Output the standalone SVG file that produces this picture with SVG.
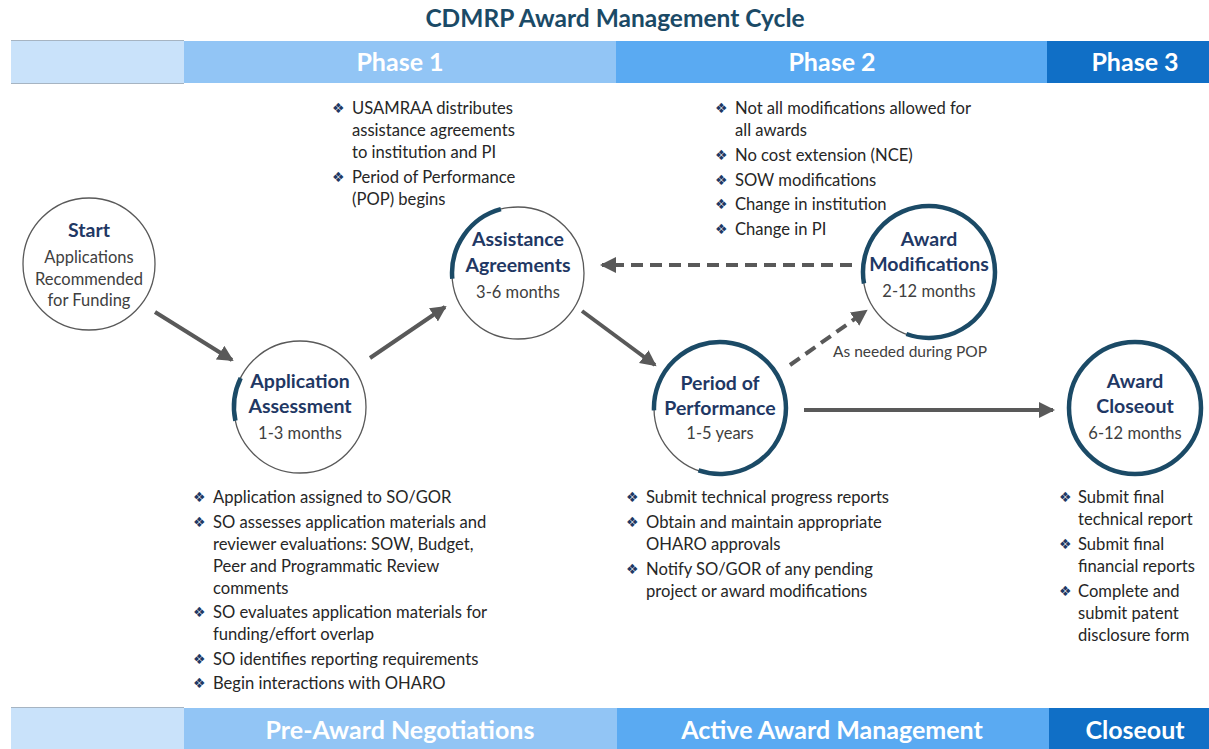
<svg xmlns="http://www.w3.org/2000/svg" width="1209" height="749" viewBox="0 0 1209 749">
<style>
.title{font-family:Lato,"Open Sans","Liberation Sans",sans-serif;font-weight:bold;font-size:24.5px;fill:#1b4a66;text-anchor:middle;}
.bar{font-family:Lato,"Open Sans","Liberation Sans",sans-serif;font-weight:bold;font-size:25px;fill:#ffffff;text-anchor:middle;}
.nt{font-family:Lato,"Open Sans","Liberation Sans",sans-serif;font-weight:bold;font-size:19.5px;fill:#1f3864;text-anchor:middle;}
.ns{font-family:Lato,"Open Sans","Liberation Sans",sans-serif;font-size:16.5px;fill:#404040;text-anchor:middle;}
.bl{font-family:Lato,"Open Sans","Liberation Sans",sans-serif;font-size:16.6px;fill:#262626;}
.bu{font-family:"DejaVu Sans",sans-serif;font-size:14px;fill:#1f3864;}
.thin{fill:#ffffff;stroke:#595959;stroke-width:1.3;}
.thick{fill:none;stroke:#1b4a66;stroke-width:4.5;}
.arr{fill:none;stroke:#595959;stroke-width:4;marker-end:url(#ah);}
.dash{stroke-dasharray:12,7;}
.lab{font-family:Lato,"Open Sans","Liberation Sans",sans-serif;font-size:15.5px;fill:#404040;text-anchor:middle;}
</style>
<defs>
<marker id="ah" markerUnits="userSpaceOnUse" markerWidth="18" markerHeight="18" refX="14" refY="8" orient="auto">
<path d="M0,0 L16,8 L0,16 Z" fill="#595959"/>
</marker>
</defs>
<rect width="1209" height="749" fill="#ffffff"/>
<text class="title" x="615" y="27">CDMRP Award Management Cycle</text>
<g id="top-bar">
<rect x="11" y="41" width="173" height="42" fill="#c9e2fa"/>
<line x1="11" y1="40.5" x2="184" y2="40.5" stroke="#a6b4c2" stroke-width="1"/>
<line x1="11" y1="83.5" x2="184" y2="83.5" stroke="#a6b4c2" stroke-width="1"/>
<rect x="184" y="41" width="432" height="42" fill="#92c5f5"/>
<rect x="616" y="41" width="431" height="42" fill="#5aaaf2"/>
<rect x="1047" y="41" width="162" height="42" fill="#106fc6"/>
<text class="bar" x="400" y="71">Phase 1</text>
<text class="bar" x="832" y="71">Phase 2</text>
<text class="bar" x="1135" y="71">Phase 3</text>
</g>
<g id="bottom-bar">
<rect x="11" y="708" width="173" height="41" fill="#c9e2fa"/>
<line x1="11" y1="707.5" x2="184" y2="707.5" stroke="#a6b4c2" stroke-width="1"/>
<rect x="184" y="708" width="433" height="41" fill="#92c5f5"/>
<rect x="617" y="708" width="432" height="41" fill="#5aaaf2"/>
<rect x="1049" y="708" width="160" height="41" fill="#106fc6"/>
<text class="bar" x="400" y="739">Pre-Award Negotiations</text>
<text class="bar" x="832" y="739">Active Award Management</text>
<text class="bar" x="1135" y="739">Closeout</text>
</g>
<g id="connectors">
<line class="arr" x1="155" y1="312" x2="232" y2="360"/>
<line class="arr" x1="370" y1="358" x2="445" y2="307"/>
<line class="arr" x1="582" y1="311" x2="655" y2="365"/>
<line class="arr" x1="804" y1="410" x2="1053" y2="410"/>
<line class="arr dash" x1="790" y1="365" x2="866" y2="311"/>
<line class="arr dash" x1="852" y1="265" x2="602" y2="265"/>
<text class="lab" x="910" y="357">As needed during POP</text>
</g>
<g id="node-start">
<circle class="thin" cx="89" cy="264" r="66"/>
<text class="nt" x="89" y="237">Start</text>
<text class="ns" x="89" y="263">Applications</text>
<text class="ns" x="89" y="285">Recommended</text>
<text class="ns" x="89" y="306">for Funding</text>
</g>
<g id="node-application-assessment">
<circle class="thin" cx="300" cy="407" r="66"/>
<path class="thick" d="M235.4,420.7 A66,66 0 0 1 240.7,378.1"/>
<text class="nt" x="300" y="388">Application</text>
<text class="nt" x="300" y="413">Assessment</text>
<text class="ns" x="300" y="439">1-3 months</text>
</g>
<g id="node-assistance-agreements">
<circle class="thin" cx="518" cy="273" r="66"/>
<path class="thick" d="M452.3,278.7 A66,66 0 0 1 500.9,209.2"/>
<text class="nt" x="518" y="246">Assistance</text>
<text class="nt" x="518" y="272">Agreements</text>
<text class="ns" x="518" y="298">3-6 months</text>
</g>
<g id="node-award-modifications">
<circle class="thin" cx="929" cy="272" r="66"/>
<path class="thick" d="M864,283.5 A66,66 0 1 1 906.4,334"/>
<text class="nt" x="929" y="246">Award</text>
<text class="nt" x="929" y="271">Modifications</text>
<text class="ns" x="929" y="297">2-12 months</text>
</g>
<g id="node-period-of-performance">
<circle class="thin" cx="720" cy="408" r="66"/>
<path class="thick" d="M654,410.3 A66,66 0 1 1 698.5,470.4"/>
<text class="nt" x="720" y="390">Period of</text>
<text class="nt" x="720" y="415">Performance</text>
<text class="ns" x="720" y="439">1-5 years</text>
</g>
<g id="node-award-closeout">
<circle cx="1135" cy="408" r="66" fill="#ffffff" stroke="#1b4a66" stroke-width="4.5"/>
<text class="nt" x="1135" y="388">Award</text>
<text class="nt" x="1135" y="413">Closeout</text>
<text class="ns" x="1135" y="439">6-12 months</text>
</g>
<g id="notes-assistance">
<text class="bu" x="332" y="113">❖</text><text class="bl" x="352" y="114">USAMRAA distributes</text>
<text class="bl" x="352" y="136">assistance agreements</text>
<text class="bl" x="352" y="158">to institution and PI</text>
<text class="bu" x="332" y="182">❖</text><text class="bl" x="352" y="183">Period of Performance</text>
<text class="bl" x="352" y="205">(POP) begins</text>
</g>
<g id="notes-modifications">
<text class="bu" x="715" y="113">❖</text><text class="bl" x="735" y="114">Not all modifications allowed for</text>
<text class="bl" x="735" y="136">all awards</text>
<text class="bu" x="715" y="160">❖</text><text class="bl" x="735" y="161">No cost extension (NCE)</text>
<text class="bu" x="715" y="185">❖</text><text class="bl" x="735" y="186">SOW modifications</text>
<text class="bu" x="715" y="209">❖</text><text class="bl" x="735" y="210">Change in institution</text>
<text class="bu" x="715" y="234">❖</text><text class="bl" x="735" y="235">Change in PI</text>
</g>
<g id="notes-application">
<text class="bu" x="193" y="502">❖</text><text class="bl" x="213" y="503">Application assigned to SO/GOR</text>
<text class="bu" x="193" y="527">❖</text><text class="bl" x="213" y="528">SO assesses application materials and</text>
<text class="bl" x="213" y="550">reviewer evaluations: SOW, Budget,</text>
<text class="bl" x="213" y="572">Peer and Programmatic Review</text>
<text class="bl" x="213" y="594">comments</text>
<text class="bu" x="193" y="617">❖</text><text class="bl" x="213" y="618">SO evaluates application materials for</text>
<text class="bl" x="213" y="640">funding/effort overlap</text>
<text class="bu" x="193" y="664">❖</text><text class="bl" x="213" y="665">SO identifies reporting requirements</text>
<text class="bu" x="193" y="688">❖</text><text class="bl" x="213" y="689">Begin interactions with OHARO</text>
</g>
<g id="notes-performance">
<text class="bu" x="626" y="502">❖</text><text class="bl" x="646" y="503">Submit technical progress reports</text>
<text class="bu" x="626" y="527">❖</text><text class="bl" x="646" y="528">Obtain and maintain appropriate</text>
<text class="bl" x="646" y="550">OHARO approvals</text>
<text class="bu" x="626" y="574">❖</text><text class="bl" x="646" y="575">Notify SO/GOR of any pending</text>
<text class="bl" x="646" y="597">project or award modifications</text>
</g>
<g id="notes-closeout">
<text class="bu" x="1059" y="502">❖</text><text class="bl" x="1078" y="503">Submit final</text>
<text class="bl" x="1078" y="525">technical report</text>
<text class="bu" x="1059" y="549">❖</text><text class="bl" x="1078" y="550">Submit final</text>
<text class="bl" x="1078" y="572">financial reports</text>
<text class="bu" x="1059" y="596">❖</text><text class="bl" x="1078" y="597">Complete and</text>
<text class="bl" x="1078" y="619">submit patent</text>
<text class="bl" x="1078" y="641">disclosure form</text>
</g>
</svg>
